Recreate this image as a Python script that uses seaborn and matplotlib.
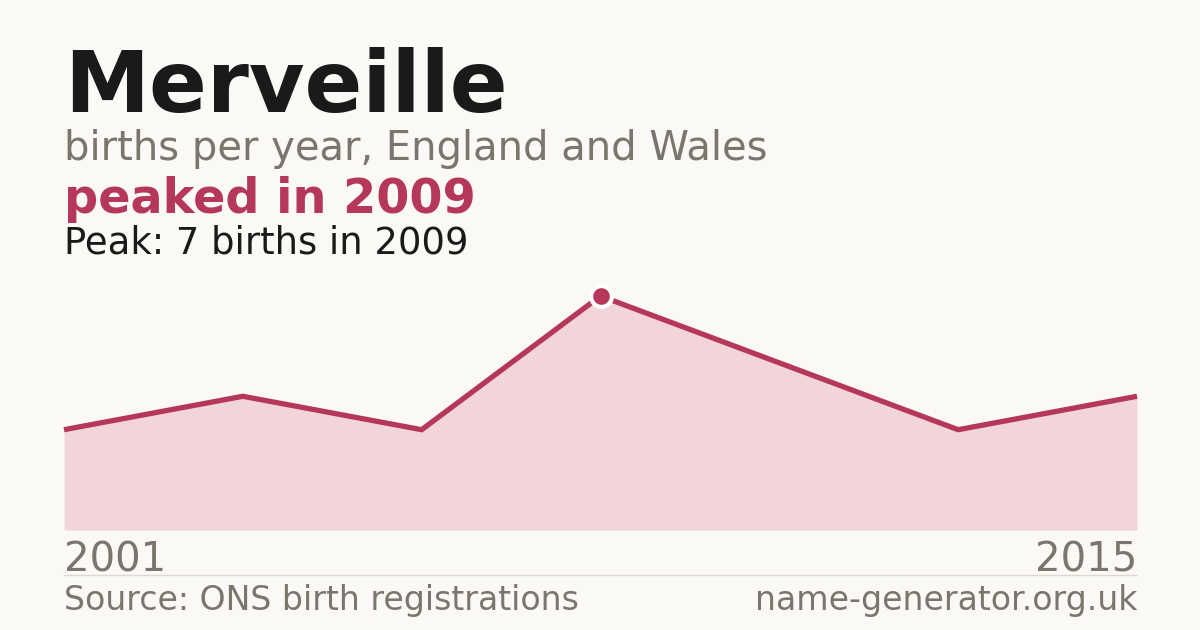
import numpy as np
import pandas as pd
import matplotlib
matplotlib.use("Agg")
import matplotlib.pyplot as plt
import seaborn as sns

# ---- data ----
years = [2001, 2003, 2005, 2009, 2011, 2013, 2015]
births = [3, 4, 3, 7, 5, 3, 4]
peak_year = 2009
peak_births = 7

BG = "#faf9f5"
RED = "#b5385a"
FILL = "#f1d5da"
GREY = "#7a756d"
INK = "#1a1a1a"

sns.set_theme(style="white")
plt.rcParams["font.family"] = ["DejaVu Sans"]

W, H = 1200, 630
fig = plt.figure(figsize=(W / 100, H / 100), dpi=100, facecolor=BG)

def fx(px):
    return px / W

def fy(py):
    return 1 - py / H

# plot area: x 64..1137, baseline 530, peak centre 296
ax = fig.add_axes([fx(64), fy(530), fx(1137 - 64), (530 - 296) / H])
ax.set_facecolor(BG)

df = pd.DataFrame({"idx": np.arange(len(years)), "year": years, "births": births})

ax.fill_between(df["idx"], 0, df["births"], color=FILL, linewidth=0, zorder=1)
sns.lineplot(data=df, x="idx", y="births", ax=ax, color=RED, linewidth=3.8,
             solid_joinstyle="miter", solid_capstyle="butt", zorder=2, clip_on=False)

pk = df[df["year"] == peak_year]
ax.plot(pk["idx"], pk["births"], marker="o", markersize=15, color=RED,
        markeredgecolor="white", markeredgewidth=3, linestyle="none",
        zorder=3, clip_on=False)

ax.set_xlim(0, len(years) - 1)
ax.set_ylim(0, max(births))
ax.set_axis_off()

# ---- header text ----
fig.text(fx(64), fy(112), "Merveille", fontsize=61.5, fontweight="bold",
         color=INK, va="baseline", ha="left")
fig.text(fx(64), fy(160), "births per year, England and Wales", fontsize=28.8,
         color=GREY, va="baseline", ha="left")
fig.text(fx(64), fy(213), f"peaked in {peak_year}", fontsize=34.4,
         fontweight="bold", color=RED, va="baseline", ha="left")
fig.text(fx(64), fy(253), f"Peak: {peak_births} births in {peak_year}",
         fontsize=26.6, color=INK, va="baseline", ha="left")

# ---- axis end labels ----
fig.text(fx(64), fy(571), str(years[0]), fontsize=29, color=GREY,
         va="baseline", ha="left")
fig.text(fx(1137), fy(571), str(years[-1]), fontsize=29, color=GREY,
         va="baseline", ha="right")

# separator
fig.add_artist(plt.Line2D([fx(64), fx(1137)], [fy(574.5), fy(574.5)],
                          color="#dcd9d2", linewidth=1))

# ---- footer ----
fig.text(fx(64), fy(610), "Source: ONS birth registrations", fontsize=23.9,
         color=GREY, va="baseline", ha="left")
fig.text(fx(1137), fy(610), "name-generator.org.uk", fontsize=23.9,
         color=GREY, va="baseline", ha="right")

fig.savefig("out.png", dpi=100, facecolor=BG)
